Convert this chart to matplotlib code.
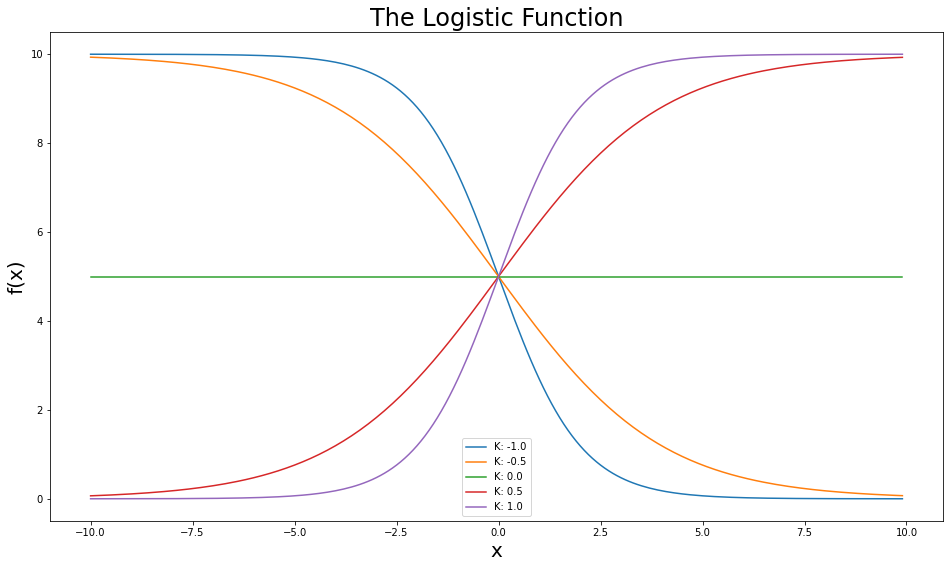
import numpy as np
import matplotlib.pyplot as plt

# logistic curve parameters
L = 10
k_values = [-1.0, -0.5, 0.0, 0.5, 1.0]
x_start, x_stop, x_step = -10.0, 10.0, 0.1

x = np.arange(x_start, x_stop, x_step)

fig = plt.figure(figsize=(949 / 72, 568 / 72), dpi=72)
ax = fig.add_axes([50 / 949, 47 / 568, 893 / 949, 489 / 568])

for k in k_values:
    y = L / (1 + np.exp(-k * x))
    ax.plot(x, y, label='K: ' + str(k))

ax.set_title('The Logistic Function', fontsize=24)
ax.set_xlabel('x', fontsize=20)
ax.set_ylabel('f(x)', fontsize=20)
ax.legend(loc='lower center')

fig.savefig('out.png', dpi=72)
